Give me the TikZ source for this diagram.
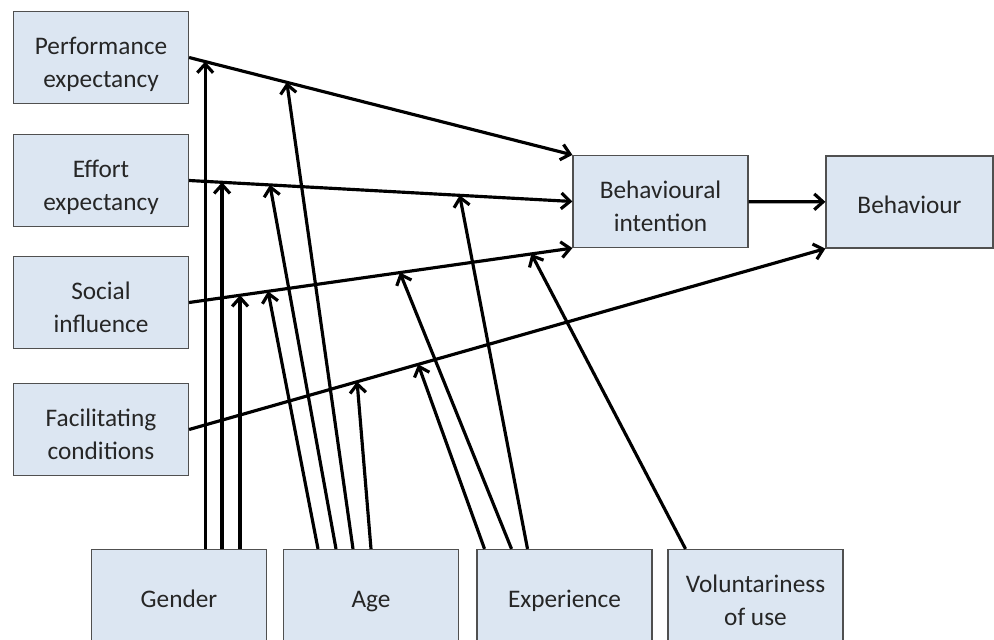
\documentclass[tikz,border=0pt]{standalone}
\usepackage{fontspec}
\setmainfont{Carlito}
\usetikzlibrary{arrows.meta}
\definecolor{boxfill}{HTML}{DCE6F2}
\definecolor{boxline}{HTML}{505050}
\definecolor{textgrey}{HTML}{262626}
\begin{document}
\begin{tikzpicture}[
    x=0.02cm, y=-0.02cm,
    box/.style={rectangle, draw=boxline, fill=boxfill, line width=0.7pt, minimum width=3.5cm, minimum height=1.84cm, align=center, text=textgrey, font=\fontsize{14.4}{18.7}\selectfont},
    oneline/.style={text height=16.5pt, text depth=3pt},
    twoline/.style={text height=34pt, text depth=0pt},
    arrow/.style={-{Straight Barb[length=5pt, width=9pt]}, line width=1.8pt}
]
\useasboundingbox (0,0) rectangle (994,639);
\clip (0,0) rectangle (994,639);

% Constructs (left column)
\node[box, twoline] (pe) at (101,57.5) {Performance\\expectancy};
\node[box, twoline] (ee) at (101,180.5) {Effort\\expectancy};
\node[box, twoline] (si) at (101,302.5) {Social\\influence};
\node[box, twoline] (fc) at (101,429.5) {Facilitating\\conditions};

% Intention and behaviour
\node[box, twoline] (bi) at (660.5,201.5) {Behavioural\\intention};
\node[box, oneline, minimum width=3.34cm] (beh) at (909.5,202) {Behaviour};

% Moderators (bottom row)
\node[box, oneline] (gen) at (179,595.5) {Gender};
\node[box, oneline] (age) at (371,595.5) {Age};
\node[box, oneline] (exp) at (564.5,595.5) {Experience};
\node[box, twoline] (vol) at (755.5,595.5) {Voluntariness\\of use};

% Main paths
\draw[arrow] (pe.east) -- (bi.north west)
    coordinate[pos=0.042] (pe-gen) coordinate[pos=0.255] (pe-age);
\draw[arrow] (ee.east) -- (bi.west)
    coordinate[pos=0.086] (ee-gen) coordinate[pos=0.211] (ee-age)
    coordinate[pos=0.706] (ee-exp);
\draw[arrow] (si.east) -- (bi.south west)
    coordinate[pos=0.133] (si-gen) coordinate[pos=0.206] (si-age)
    coordinate[pos=0.55] (si-exp) coordinate[pos=0.893] (si-vol);
\draw[arrow] (fc.east) -- (beh.south west)
    coordinate[pos=0.264] (fc-age) coordinate[pos=0.36] (fc-exp);
\draw[arrow] (bi) -- (beh);

% Gender moderates (vertical)
\foreach \t in {pe-gen, ee-gen, si-gen}
    \draw[arrow] (\t |- gen.north) -- (\t);

% Age moderates
\foreach \t/\dx in {si-age/-1.06, ee-age/-0.7, pe-age/-0.36, fc-age/0}
    \draw[arrow] ([xshift=\dx cm]age.north) -- (\t);

% Experience moderates
\foreach \t/\dx in {fc-exp/-1.6, si-exp/-1.06, ee-exp/-0.74}
    \draw[arrow] ([xshift=\dx cm]exp.north) -- (\t);

% Voluntariness moderates
\draw[arrow] ([xshift=-1.4cm]vol.north) -- (si-vol);

\end{tikzpicture}
\end{document}
